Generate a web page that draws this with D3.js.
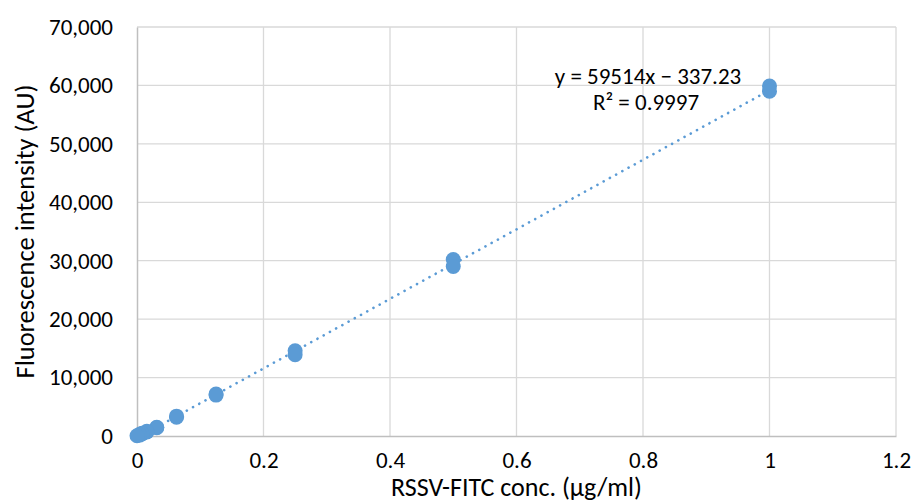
<!DOCTYPE html>
<html>
<head>
<meta charset="utf-8">
<style>
body { margin: 0; background: #fff; }
text { font-family: Carlito, Lato, "Open Sans", sans-serif; fill: #000; }
.grid line { stroke: #d9d9d9; stroke-width: 1.3px; }
.axis path, .axis line { stroke: #bfbfbf; }
</style>
</head>
<body>
<script src="https://cdn.jsdelivr.net/npm/d3@7"></script>
<script>
// concentrations (ug/ml) and measured intensities (two replicates each)
var conc = [1, 1, 0.5, 0.5, 0.25, 0.25, 0.125, 0.125, 0.0625, 0.0625, 0.03125, 0.03125, 0.015625, 0.015625, 0.0078, 0.0078, 0.0039, 0.0039, 0];
var intensity = [59900, 59000, 30200, 29000, 14600, 13900, 7200, 7000, 3400, 3200, 1500, 1400, 800, 700, 450, 350, 250, 150, 50];
var xTicks = [0, 0.2, 0.4, 0.6, 0.8, 1, 1.2];
var yTicks = [0, 10000, 20000, 30000, 40000, 50000, 60000, 70000];
var slope = 59514, intercept = -337.23;

var width = 915, height = 504;
var mLeft = 137, mRight = 896, mTop = 27, mBottom = 436;

var svg = d3.select("body").append("svg")
    .attr("width", width)
    .attr("height", height);

var x = d3.scaleLinear().domain([0, 1.2]).range([mLeft, mRight]);
var y = d3.scaleLinear().domain([0, 70000]).range([mBottom, mTop]);

// gridlines
var grid = svg.append("g").attr("class", "grid");
grid.selectAll(".gx").data(xTicks.slice(1)).enter().append("line")
    .attr("x1", function(d) { return x(d); }).attr("x2", function(d) { return x(d); })
    .attr("y1", mTop).attr("y2", mBottom);
grid.selectAll(".gy").data(yTicks.slice(1)).enter().append("line")
    .attr("x1", mLeft).attr("x2", mRight)
    .attr("y1", function(d) { return y(d); }).attr("y2", function(d) { return y(d); });

// axes
var fmt = d3.format(",");
var xAxis = svg.append("g").attr("class", "axis")
    .attr("transform", "translate(0," + mBottom + ")")
    .call(d3.axisBottom(x).tickValues(xTicks).tickSize(0).tickPadding(16)
      .tickFormat(function(d) { return d === 0 ? "0" : d3.format(".1f")(d).replace(/\.0$/, ""); }));
xAxis.select(".domain").attr("stroke-width", 1.5);
xAxis.attr("font-size", null).attr("font-family", null);
xAxis.selectAll("text").style("font-size", "23px").attr("fill", "#000");

var yAxis = svg.append("g").attr("class", "axis")
    .attr("transform", "translate(" + mLeft + ",0)")
    .call(d3.axisLeft(y).tickValues(yTicks).tickSize(0).tickPadding(24).tickFormat(fmt));
yAxis.select(".domain").attr("stroke-width", 1.5);
yAxis.attr("font-size", null).attr("font-family", null);
yAxis.selectAll("text").style("font-size", "23px").attr("fill", "#000");

// trendline
var xs = [d3.min(conc), d3.max(conc)];
svg.append("line")
    .attr("x1", x(xs[0])).attr("y1", y(slope * xs[0] + intercept))
    .attr("x2", x(xs[1])).attr("y2", y(slope * xs[1] + intercept))
    .attr("stroke", "#5b9bd5")
    .attr("stroke-width", 2.6)
    .attr("stroke-linecap", "round")
    .attr("stroke-dasharray", "0.1,7");

// points
svg.selectAll("circle").data(conc).enter().append("circle")
    .attr("cx", function(d) { return x(d); })
    .attr("cy", function(d, i) { return y(intensity[i]); })
    .attr("r", 7.5)
    .attr("fill", "#5b9bd5");

// equation
svg.append("text").attr("x", 648).attr("y", 84).attr("text-anchor", "middle")
    .style("font-size", "23px").text("y = 59514x \u2212 337.23");
svg.append("text").attr("x", 646).attr("y", 110).attr("text-anchor", "middle")
    .style("font-size", "23px").text("R\u00b2 = 0.9997");

// axis titles
svg.append("text").attr("x", (mLeft + mRight) / 2).attr("y", 496).attr("text-anchor", "middle")
    .style("font-size", "26px").text("RSSV-FITC conc. (\u00b5g/ml)");
svg.append("text").attr("transform", "translate(34," + ((mTop + mBottom) / 2) + ") rotate(-90)")
    .attr("text-anchor", "middle")
    .style("font-size", "26.5px").text("Fluorescence intensity (AU)");
</script>
</body>
</html>
